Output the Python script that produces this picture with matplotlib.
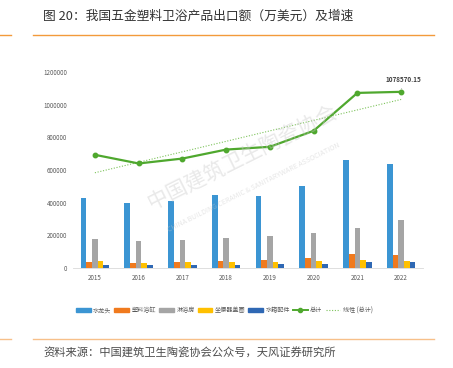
import matplotlib
matplotlib.use("Agg")
import matplotlib.pyplot as plt
import numpy as np
from matplotlib.patches import Patch
from matplotlib.lines import Line2D

plt.rcParams['font.family'] = ['Noto Sans CJK SC', 'DejaVu Sans']

years = ['2015', '2016', '2017', '2018', '2019', '2020', '2021', '2022']
faucet = [428000, 395000, 412000, 446000, 440000, 505000, 662000, 634000]
bathtub = [35000, 32000, 38000, 43000, 47000, 61000, 87000, 77000]
shower = [179000, 167000, 171000, 183000, 198000, 214000, 242000, 293000]
seat = [40000, 32000, 36000, 38000, 38000, 41000, 47000, 45000]
tank = [18000, 16000, 16000, 18000, 22000, 22000, 38000, 38000]
total = [693000, 640000, 670000, 725000, 742000, 840000, 1072000, 1078570.15]
series_names = ['水龙头', '塑料浴缸', '淋浴房', '坐便器盖圈', '水箱配件']
total_name = '总计'
trend_name = '线性 (总计)'
yticks = [0, 200000, 400000, 600000, 800000, 1000000, 1200000]

colors = ['#3B95D3', '#F07A1E', '#A5A5A5', '#FFC000', '#2F68B4']
green = '#4FA82E'

fig = plt.figure(figsize=(4.53, 3.68), dpi=100)
ax = fig.add_axes([73/453, 1-268/368, 350/453, 196/368])

x = np.arange(len(years))
bw = 0.13
data = [faucet, bathtub, shower, seat, tank]
for i, (vals, c) in enumerate(zip(data, colors)):
    ax.bar(x + (i - 2) * bw, vals, width=bw, color=c, zorder=2)

ax.plot(x, total, color=green, lw=1.6, marker='o', ms=3.2, zorder=4)
coef = np.polyfit(x, total, 1)
ax.plot(x, np.polyval(coef, x), color='#7DC35B', lw=0.8, ls=(0, (1, 1.5)), zorder=3)

ax.annotate(f'{total[-1]:.2f}', xy=(x[-1], total[-1]), xytext=(x[-1] + 0.05, total[-1] + 55000),
            fontsize=4.6, fontweight='bold', color='#404040', ha='center', va='bottom',
            arrowprops=dict(arrowstyle='-', color='#A0A0A0', lw=0.5))

ax.set_xlim(-0.5, len(years) - 0.5)
ax.set_ylim(0, 1200000)
ax.set_xticks(x)
ax.set_xticklabels(years)
ax.set_yticks(yticks)
ax.set_yticklabels([str(v) for v in yticks])
ax.tick_params(axis='both', length=0, labelsize=4.5, labelcolor='#595959', pad=4)
for s in ['top', 'right', 'left']:
    ax.spines[s].set_visible(False)
ax.spines['bottom'].set_color('#D9D9D9')
ax.spines['bottom'].set_linewidth(0.6)

# watermark
fig.text(0.535, 0.57, '中国建筑卫生陶瓷协会', fontsize=15, color='#C8C8C8', alpha=0.4,
         rotation=26.5, ha='center', va='center', zorder=10)
fig.text(0.56, 0.49, 'CHINA BUILDING CERAMIC & SANITARYWARE ASSOCIATION', fontsize=5,
         color='#C8C8C8', alpha=0.45, rotation=26.5, ha='center', va='center', zorder=10)

handles = [Patch(color=c) for c in colors]
handles.append(Line2D([], [], color=green, lw=1.4, marker='o', ms=3))
handles.append(Line2D([], [], color='#7DC35B', lw=0.8, ls=(0, (1, 1.5))))
labels = series_names + [total_name, trend_name]
fig.legend(handles, labels, loc='center', bbox_to_anchor=(0.495, 0.157), ncol=7, frameon=False,
           fontsize=4.4, handlelength=2.4, handleheight=0.5, handletextpad=0.4, columnspacing=0.5,
           labelcolor='#595959')

# title and rules
fig.text(43/453, 1-16/368, '图 20：我国五金塑料卫浴产品出口额（万美元）及增速', fontsize=9.2,
         color='#333333', ha='left', va='center')
fig.add_artist(Line2D([0, 11/453], [1-35/368, 1-35/368], color='#F39A3B', lw=1.0))
fig.add_artist(Line2D([33/453, 434/453], [1-35/368, 1-35/368], color='#F39A3B', lw=1.0))
fig.add_artist(Line2D([0, 11/453], [1-339/368, 1-339/368], color='#F7C08A', lw=1.0))
fig.add_artist(Line2D([33/453, 434/453], [1-339/368, 1-339/368], color='#F7C08A', lw=1.0))
fig.text(43/453, 1-353/368, '资料来源：中国建筑卫生陶瓷协会公众号，天风证券研究所', fontsize=8.1,
         color='#4D4D4D', ha='left', va='center')

fig.savefig('out.png', dpi=100)
